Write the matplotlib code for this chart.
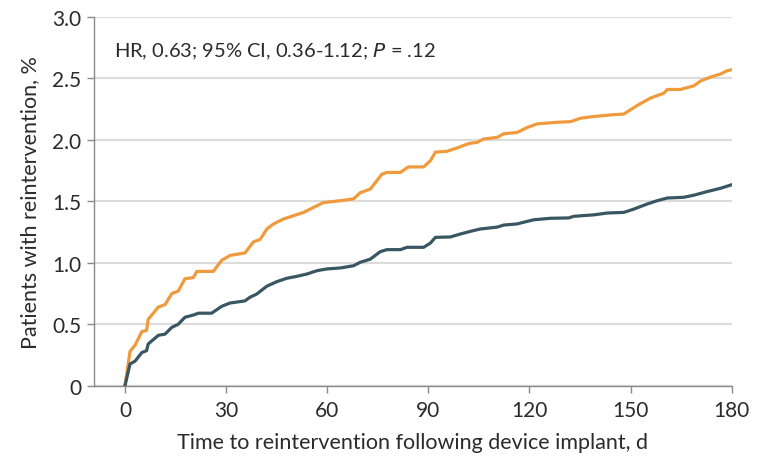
import matplotlib
matplotlib.use("Agg")
import matplotlib.pyplot as plt

# cumulative reintervention (%)
days_a = [0, 1.5, 3, 5, 6.4, 6.9, 9.9, 11.9, 13.9, 15.8, 17.8, 20.3, 21.3, 26.2, 28.7,
          31.2, 35.6, 38.1, 40.1, 42.1, 44, 47, 50, 53, 55.9, 58.9, 63.9, 67.8, 69.8,
          72.8, 76.2, 77.7, 81.7, 84.1, 88.6, 90.6, 92.1, 95.5, 98.5, 102, 104.5, 106.4,
          110.4, 112.4, 116.3, 119.3, 122.3, 128.2, 132.2, 135.1, 139.1, 145, 148, 152,
          155.9, 159.9, 160.9, 164.8, 168.8, 170.8, 173.7, 176.7, 178.7, 180]
pct_a = [0, 0.28, 0.33, 0.44, 0.45, 0.54, 0.64, 0.66, 0.75, 0.77, 0.87, 0.88, 0.93, 0.93, 1.02,
         1.06, 1.08, 1.17, 1.19, 1.275, 1.315, 1.356, 1.383, 1.41, 1.45, 1.49, 1.505, 1.52, 1.57,
         1.6, 1.72, 1.735, 1.735, 1.78, 1.78, 1.83, 1.9, 1.907, 1.934, 1.97, 1.98, 2.007,
         2.02, 2.05, 2.06, 2.1, 2.13, 2.143, 2.148, 2.176, 2.19, 2.205, 2.21, 2.28,
         2.34, 2.38, 2.41, 2.41, 2.44, 2.48, 2.51, 2.536, 2.563, 2.57]

days_b = [0, 1.5, 3, 5, 6.4, 6.9, 9.9, 11.9, 13.9, 15.8, 17.8, 20.3, 21.8, 25.7, 28.7,
          31.2, 35.6, 37.1, 39.1, 42.1, 45, 48, 51, 54, 57, 59.9, 63.9, 67.8, 69.8, 72.8,
          75.7, 77.7, 81.7, 83.7, 88.6, 90.6, 92.1, 96.5, 99.5, 102.5, 105.4, 110.4, 112.4,
          116.3, 118.3, 121.3, 126.2, 131.7, 133.1, 139.1, 143.1, 148, 151, 154.9, 157.9,
          160.9, 165.8, 168.8, 172.8, 176.7, 180]
pct_b = [0, 0.177, 0.2, 0.27, 0.285, 0.34, 0.41, 0.42, 0.475, 0.5, 0.557, 0.575, 0.59, 0.59, 0.646,
         0.673, 0.69, 0.72, 0.746, 0.81, 0.846, 0.874, 0.89, 0.909, 0.936, 0.95, 0.958, 0.976, 1.004, 1.03,
         1.09, 1.107, 1.107, 1.126, 1.126, 1.16, 1.207, 1.21, 1.234, 1.256, 1.275, 1.29, 1.307,
         1.316, 1.33, 1.35, 1.362, 1.365, 1.378, 1.39, 1.405, 1.41, 1.437, 1.478, 1.505,
         1.527, 1.533, 1.55, 1.58, 1.606, 1.635]

x_ticks = [0, 30, 60, 90, 120, 150, 180]
y_ticks = [0, 0.5, 1.0, 1.5, 2.0, 2.5, 3.0]
y_labels = ["0", "0.5", "1.0", "1.5", "2.0", "2.5", "3.0"]

plt.rcParams["font.family"] = ["Lato", "DejaVu Sans"]
text_color = "#2b2b2b"

fig = plt.figure(figsize=(7.59, 4.60), dpi=100)
ax = fig.add_axes([0.1238, 0.1593, 0.8402, 0.8017])

ax.plot(days_a, pct_a, color="#F09A3E", lw=2.3, solid_joinstyle="round", zorder=3)
ax.plot(days_b, pct_b, color="#395763", lw=2.3, solid_joinstyle="round", zorder=3)

ax.set_xlim(-9.2, 180)
ax.set_ylim(0, 3.0)
ax.set_xticks(x_ticks)
ax.set_yticks(y_ticks)
ax.set_yticklabels(y_labels)
ax.yaxis.grid(True, color="#dcdcdc", lw=1.6, zorder=0)
ax.set_axisbelow(True)

for side in ("top", "right"):
    ax.spines[side].set_visible(False)
for side in ("left", "bottom"):
    ax.spines[side].set_color("#8a8a8a")
    ax.spines[side].set_linewidth(1.0)
ax.tick_params(colors="#8a8a8a", length=5, width=1.0, labelsize=15,
               labelcolor=text_color)
ax.tick_params(axis="y", pad=4)
ax.tick_params(axis="x", pad=5)

ax.set_xlabel("Time to reintervention following device implant, d",
              fontsize=15.5, color=text_color, labelpad=9)
ax.set_ylabel("Patients with reintervention, %", fontsize=15.5, color=text_color,
              labelpad=9)

ax.text(-3.2, 2.72, r"HR, 0.63; 95% CI, 0.36-1.12; $\it{P}$ = .12",
        fontsize=14.5, color=text_color, va="center", ha="left")

fig.savefig("out.png", dpi=100)
